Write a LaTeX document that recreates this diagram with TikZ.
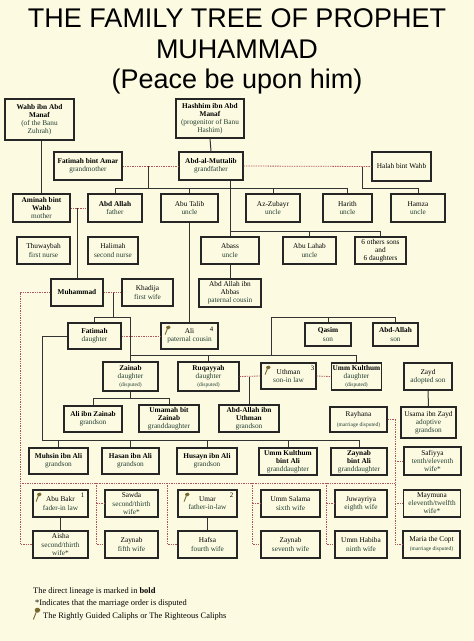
\documentclass[tikz,border=0pt]{standalone}
\usepackage{fontspec}
\setmainfont{Liberation Serif}
\newfontfamily\titlefont{Liberation Sans}
\usetikzlibrary{calc}

\definecolor{paper}{RGB}{252,251,226}
\definecolor{wedline}{RGB}{176,84,96}
\definecolor{kintext}{RGB}{35,60,48}
\definecolor{caliphc}{RGB}{120,104,48}
\newcommand{\kin}[1]{{\color{kintext}#1}}
\newcommand{\smallnote}[1]{{\fontsize{5.5}{6.3}\selectfont\color{kintext}#1}}

\begin{document}
\begin{tikzpicture}[
    x=1pt, y=-1pt,
    box/.style={draw=black!85, line width=1.3pt, fill=paper, align=center, inner sep=0.5pt,
        minimum width=#1, minimum height=27pt, font=\fontsize{7.3}{8.1}\selectfont},
    box/.default=55pt,
    link/.style={draw=black!80, line width=1pt},
    wed/.style={draw=wedline, line width=0.8pt, dash pattern=on 1.4pt off 1pt},
    rank/.style={font=\fontsize{6.8}{7}\selectfont, inner sep=0pt},
    titletext/.style={font=\titlefont\fontsize{27}{30}\selectfont, anchor=base, inner sep=0pt},
    legend/.style={font=\fontsize{8.4}{9}\selectfont, anchor=base west, inner sep=0pt},
    caliph/.pic={
        \draw[caliphc, line width=0.9pt, line cap=round] (-1.2,4) -- (0.8,-1);
        \fill[caliphc] (0.8,-1) .. controls (-1.5,-3) and (0.5,-5.5) .. (2.8,-4.8)
            .. controls (4.8,-4.2) and (4.6,-1.8) .. (2.8,-1.2) -- cycle;
    }
]
    % page and title
    \fill[paper] (0,0) rectangle (474,641);
    \node[titletext] (title1) at (237,27) {THE FAMILY TREE OF PROPHET};
    \node[titletext] (title2) at (237,58) {MUHAMMAD};
    \node[titletext] (title3) at (237,88) {(Peace be upon him)};

    % helper rows for the bars
    \coordinate (barA) at (0,188);
    \coordinate (barB) at (0,231);
    \coordinate (barC) at (0,317);
    \coordinate (barD) at (0,355);
    \coordinate (barE) at (0,398);
    \coordinate (barF) at (0,440);
    \coordinate (barG) at (0,483);

    % Ancestors
    \node[box=69pt, minimum height=41pt] (wahb) at (39.5,119.5) {\textbf{Wahb ibn Abd}\\\textbf{Manaf}\\\kin{(of the Banu}\\\kin{Zuhrah)}};
    \node[box=68pt, minimum height=39pt] (hashim) at (210,118.5) {\textbf{Hashhim ibn Abd}\\\textbf{Manaf}\\\kin{(progenitor of Banu}\\\kin{Hashim)}};
    \node[box=68pt, minimum height=28pt] (fatamar) at (88,166) {\textbf{Fatimah bint Amar}\\\kin{grandmother}};
    \node[box=64pt, minimum height=28pt] (muttalib) at (211,166) {\textbf{Abd-al-Muttalib}\\\kin{grandfather}};
    \node[box=59pt, minimum height=29pt] (halah) at (401.5,166.5) {Halah bint Wahb};

    % Parents and uncles
    \node[box=57pt, minimum height=28pt] (aminah) at (41.5,208) {\textbf{Aminah bint}\\\textbf{Wahb}\\\kin{mother}};
    \node[box=54pt, minimum height=28pt] (abdallah) at (115,208) {\textbf{Abd Allah}\\\kin{father}};
    \node[box=57pt, minimum height=28pt] (abutalib) at (189.5,208) {Abu Talib\\\kin{uncle}};
    \node[box=54pt, minimum height=28pt] (zubayr) at (273,208) {Az-Zubayr\\\kin{uncle}};
    \node[box=49pt, minimum height=28pt] (harith) at (347.5,208) {Harith\\\kin{uncle}};
    \node[box=54pt, minimum height=28pt] (hamza) at (418,208) {Hamza\\\kin{uncle}};

    \node[box=53pt] (thuwaybah) at (43.5,250.5) {Thuwaybah\\\kin{first nurse}};
    \node[box=50pt] (halimah) at (113,250.5) {Halimah\\\kin{second nurse}};
    \node[box=58pt] (abass) at (230,250.5) {Abass\\\kin{uncle}};
    \node[box=53pt] (abulahab) at (309.5,250.5) {Abu Lahab\\\kin{uncle}};
    \node[box=51pt] (others) at (380.5,250.5) {6 others sons\\and\\6 daughters};

    % Muhammad
    \node[box=52pt] (muhammad) at (77,292.5) {\textbf{Muhammad}};
    \node[box=51pt] (khadija) at (147.5,292.5) {Khadija\\\kin{first wife}};
    \node[box=62pt, minimum height=28pt] (ibnabbas) at (230,293) {Abd Allah ibn\\Abbas\\\kin{paternal cousin}};

    % Children
    \node[box=53pt, minimum height=26pt] (fatimah) at (94.5,336) {\textbf{Fatimah}\\\kin{daughter}};
    \node[box=57pt, minimum height=26pt] (ali) at (189.5,336) {Ali\\\kin{paternal cousin}};
    \node[box=46pt, minimum height=23pt] (qasim) at (328,334.5) {\textbf{Qasim}\\\kin{son}};
    \node[box=45pt, minimum height=23pt] (abdallahson) at (395.5,334.5) {\textbf{Abd-Allah}\\\kin{son}};

    \node[box=55pt, minimum height=29pt] (zainab) at (130.5,376.5) {\textbf{Zainab}\\\kin{daughter}\\\smallnote{(disputed)}};
    \node[box=61pt, minimum height=29pt] (ruqayyah) at (208.5,376.5) {\textbf{Ruqayyah}\\\kin{daughter}\\\smallnote{(disputed)}};
    \node[box=55pt, minimum height=26pt] (uthman) at (288.5,376) {Uthman\\\kin{son-in law}};
    \node[box=50pt] (ummkulthum) at (356.5,376.5) {\textbf{Umm Kulthum}\\\kin{daughter}\\\smallnote{(disputed)}};
    \node[box=48pt] (zayd) at (428,376.5) {Zayd\\\kin{adopted son}};

    % Grandchildren
    \node[box=58pt, minimum height=26pt] (aliibnzainab) at (93,419) {\textbf{Ali ibn Zainab}\\\kin{grandson}};
    \node[box=60pt] (umamah) at (169,418.5) {\textbf{Umamah bit}\\\textbf{Zainab}\\\kin{granddaughter}};
    \node[box=60pt] (ibnuthman) at (249,418.5) {\textbf{Abd-Allah ibn}\\\textbf{Uthman}\\\kin{grandson}};
    \node[box=57pt, minimum height=25pt] (rayhana) at (358.5,419.5) {Rayhana\\[2pt]\smallnote{(marriage disputed)}};
    \node[box=55pt, minimum height=31pt] (usama) at (428.5,422.5) {Usama ibn Zayd\\\kin{adoptive}\\\kin{grandson}};

    \node[box=59pt, minimum height=26pt] (muhsin) at (58.5,461) {\textbf{Muhsin ibn Ali}\\\kin{grandson}};
    \node[box=57pt, minimum height=26pt] (hasan) at (130.5,461) {\textbf{Hasan ibn Ali}\\\kin{grandson}};
    \node[box=60pt, minimum height=26pt] (husayn) at (207,461) {\textbf{Husayn ibn Ali}\\\kin{grandson}};
    \node[box=58pt] (ummkulthumali) at (288,461.5) {\textbf{Umm Kulthum}\\\textbf{bint Ali}\\\kin{granddaughter}};
    \node[box=56pt] (zaynabali) at (359,461.5) {\textbf{Zaynab}\\\textbf{bint Ali}\\\kin{granddaughter}};
    \node[box=57pt, minimum height=28pt] (safiyya) at (432.5,461) {Safiyya\\\kin{tenth/eleventh}\\\kin{wife*}};

    % Wives and fathers-in-law
    \node[box=55pt] (abubakr) at (60.5,503.5) {Abu Bakr\\\kin{fader-in law}};
    \node[box=53pt] (sawda) at (131.5,503.5) {Sawda\\\kin{second/thirth}\\\kin{wife*}};
    \node[box=59pt] (umar) at (207.5,503.5) {Umar\\\kin{father-in-law}};
    \node[box=59pt] (ummsalama) at (290.5,503.5) {Umm Salama\\\kin{sixth wife}};
    \node[box=52pt] (juwayriya) at (361,503.5) {Juwayriya\\\kin{eighth wife}};
    \node[box=57pt] (maymuna) at (432,503.5) {Maymuna\\\kin{eleventh/twelfth}\\\kin{wife*}};

    \node[box=55pt] (aisha) at (60.5,544.5) {Aisha\\\kin{second/thirth}\\\kin{wife*}};
    \node[box=53pt] (zaynabf) at (131.5,544.5) {Zaynab\\\kin{fifth wife}};
    \node[box=59pt] (hafsa) at (207.5,544.5) {Hafsa\\\kin{fourth wife}};
    \node[box=59pt] (zaynabs) at (290.5,544.5) {Zaynab\\\kin{seventh wife}};
    \node[box=52pt] (ummhabiba) at (361,544.5) {Umm Habiba\\\kin{ninth wife}};
    \node[box=57pt] (maria) at (431.5,544.5) {Maria the Copt\\[1pt]\smallnote{(marriage disputed)}};

    % Caliph marks
    \pic at ($(abubakr.north west)+(5,8)$) {caliph};
    \node[rank] (rank1) at ($(abubakr.north east)+(-6,6)$) {1};
    \pic at ($(umar.north west)+(8,8)$) {caliph};
    \node[rank] (rank2) at ($(umar.north east)+(-6,6)$) {2};
    \pic at ($(uthman.north west)+(6,8)$) {caliph};
    \node[rank] (rank3) at ($(uthman.north east)+(-4,6)$) {3};
    \pic at ($(ali.north west)+(6,8)$) {caliph};
    \node[rank] (rank4) at ($(ali.north east)+(-7,7)$) {4};

    % Ancestor lines
    \draw[link] (aminah.north) -- (aminah.north |- wahb.south);
    \draw[link] (hashim.south) -- (muttalib.north);
    \draw[wed] (fatamar.east) -- (muttalib.west);
    \draw[wed] (muttalib.east) -- (halah.west);
    \coordinate (fm) at ($(fatamar.east)!0.47!(muttalib.west)$);
    \draw[link] (fm) -- (fm |- barA);
    \draw[link] (abdallah.north |- barA) -- (harith.north |- barA);
    \foreach \n in {abdallah, abutalib, zubayr, harith}
        \draw[link] (\n.north) -- (\n.north |- barA);
    \draw[link] (abass.north) -- (abass.north |- muttalib.south);
    \draw[link] (abass.north |- barB) -- (others.north |- barB);
    \foreach \n in {abulahab, others}
        \draw[link] (\n.north) -- (\n.north |- barB);
    \coordinate (mh) at ([xshift=-9pt]halah.west);
    \draw[link] (mh) -- (mh |- barA) -- (hamza.north |- barA) -- (hamza.north);
    \draw[link] (abass.south) -- (ibnabbas.north);

    % Parents of Muhammad
    \draw[wed] (aminah.east) -- (abdallah.west);
    \draw[link] (muhammad.north) -- (muhammad.north |- aminah.east);

    % Muhammad and Khadija
    \draw[wed] (muhammad.east) -- (khadija.west);
    \coordinate (wv) at (20,0);
    \draw[wed] (muhammad.west) -- (wv |- muhammad.west) -- (wv |- aisha.west) -- (aisha.west);
    \coordinate (mk) at ([xshift=10pt]muhammad.east);
    \draw[link] (mk) -- (mk |- barC);
    \draw[link] (fatimah.north) -- (fatimah.north |- barC) -- (zainab.north |- barC) -- (zainab.north);
    \draw[link] (zainab.north |- barD) -- (ummkulthum.north |- barD);
    \foreach \n in {ruqayyah, ummkulthum}
        \draw[link] (\n.north) -- (\n.north |- barD);
    \coordinate (sv) at (271,0);
    \draw[link] (sv |- barD) -- (sv |- barC) -- (abdallahson.north |- barC) -- (abdallahson.north);
    \draw[link] (qasim.north) -- (qasim.north |- barC);

    % Fatimah and Ali
    \draw[link] (abutalib.south) -- (ali.north);
    \draw[wed] (fatimah.east) -- (ali.west);
    \coordinate (fv) at (42,0);
    \draw[link] (fatimah.west) -- (fv |- fatimah.west) -- (fv |- barF) -- (zaynabali.north |- barF);
    \foreach \n in {muhsin, hasan, husayn, ummkulthumali, zaynabali}
        \draw[link] (\n.north) -- (\n.north |- barF);

    % Zainab, Ruqayyah, Umm Kulthum
    \draw[link] (zainab.south) -- (zainab.south |- barE);
    \draw[link] (aliibnzainab.north) -- (aliibnzainab.north |- barE) -- (umamah.north |- barE) -- (umamah.north);
    \draw[wed] (ruqayyah.east) -- (uthman.west);
    \draw[wed] (uthman.east) -- (ummkulthum.west);
    \draw[link] (ibnuthman.north) -- (ibnuthman.north |- ruqayyah.east);
    \draw[link] (zayd.south) -- (usama.north);

    % Other wives
    \coordinate (rv) at (395,0);
    \draw[wed] (rayhana.east) -- (rv |- rayhana.east) -- (rv |- maria.west) -- (maria.west);
    \foreach \n in {safiyya, maymuna}
        \draw[wed] (rv |- \n.west) -- (\n.west);
    \draw[wed] (wv |- barG) -- (rv |- barG);
    \foreach \a/\b in {sawda/zaynabf, ummsalama/zaynabs, juwayriya/ummhabiba} {
        \path ([xshift=-8pt]\a.west) coordinate (col);
        \draw[wed] (col |- barG) -- (col |- \b.west) -- (\b.west);
        \draw[wed] (col) -- (\a.west);
    }
    \path ([xshift=-10pt]hafsa.west) coordinate (col);
    \draw[wed] (col |- barG) -- (col) -- (hafsa.west);
    \draw[link] (abubakr.south) -- (aisha.north);
    \draw[link] (umar.south) -- (hafsa.north);

    % Legend
    \node[legend] (leg1) at (33,593) {The direct lineage is marked in \textbf{bold}};
    \node[legend] (leg2) at (35,605) {*Indicates that the marriage order is disputed};
    \pic[scale=1.3] at (35,614) {caliph};
    \node[legend] (leg3) at (43,618) {The Rightly Guided Caliphs or The Righteous Caliphs};
\end{tikzpicture}
\end{document}
